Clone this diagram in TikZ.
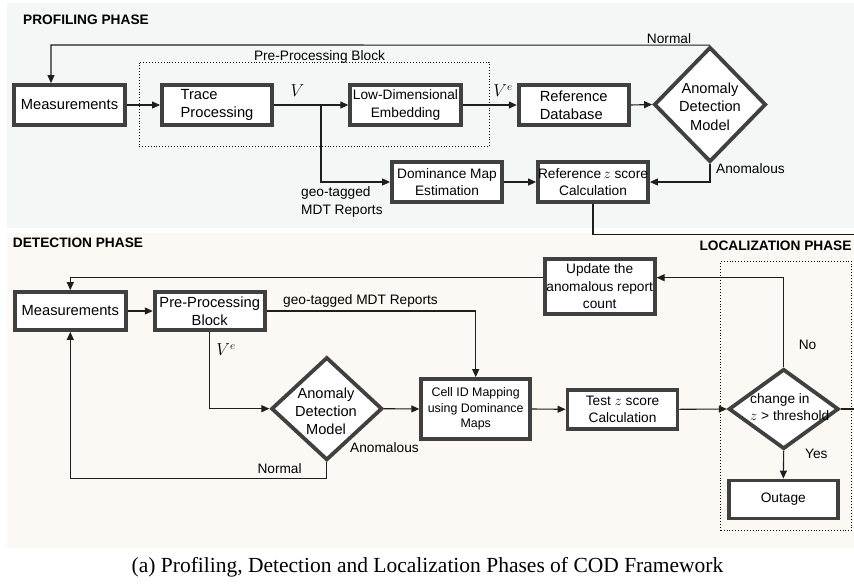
\documentclass[tikz,border=0pt]{standalone}
\usepackage{fontspec}
\setmainfont{Liberation Sans}
\newfontfamily\capfont{Liberation Serif}
\usetikzlibrary{shapes.geometric,arrows.meta,calc}
\definecolor{boxc}{RGB}{64,64,64}
\definecolor{linec}{RGB}{30,30,30}
\definecolor{profbg}{RGB}{245,246,246}
\definecolor{detbg}{RGB}{252,249,244}
\newcommand\dfont{\fontsize{13.7}{17.2}\selectfont}
\newcommand\bfont{\fontsize{14.7}{18.3}\selectfont}
\newcommand\sfont{\fontsize{12.4}{15.6}\selectfont}
\newcommand\hfont{\fontsize{13.7}{16}\selectfont\bfseries}
\begin{document}
\begin{tikzpicture}[x=1pt,y=-1pt,
  box/.style={draw=boxc, line width=3.8pt, fill=white, inner sep=0pt, font=\dfont, align=center},
  dia/.style={shape=diamond, draw=boxc, line width=3.8pt, fill=white, inner sep=0pt},
  lab/.style={inner sep=0pt, font=\dfont},
  conn/.style={draw=linec, line width=1.1pt},
  arr/.style={conn, -{Triangle[length=8pt,width=7pt]}},
  dotbox/.style={draw=black, dotted, line width=0.9pt, inner sep=0pt}]
\useasboundingbox (0,0) rectangle (854,584);
\fill[white] (0,0) rectangle (854,584);
% backgrounds
\fill[profbg] (7,3) rectangle (854,228);
\fill[detbg] (7,233) rectangle (854,548);

% headings
\node[lab, font=\hfont, anchor=west] (hprof) at (23,20) {PROFILING PHASE};
\node[lab, font=\hfont, anchor=west] (hdet) at (12.7,243) {DETECTION PHASE};
\node[lab, font=\hfont, anchor=east] (hloc) at (851.7,246) {LOCALIZATION PHASE};

% dotted blocks
\node[dotbox, minimum width=350.3, minimum height=84.7] (ppb) at (314.2,104.35) {};
\node[lab] (ppbl) at (319.5,56.7) {Pre-Processing Block};
\node[dotbox, minimum width=131, minimum height=269.7] (locb) at (786.2,395.85) {};

% ---------- profiling nodes ----------
\node[box, font=\bfont, minimum width=111, minimum height=40] (mp) at (69.5,105) {Measurements};
\node[box, font=\bfont, minimum width=110, minimum height=40, align=left] (tp) at (217,105) {Trace\\Processing};
\node[box, minimum width=110.5, minimum height=40] (ld) at (405.5,105) {Low-Dimensional\\Embedding};
\node[box, font=\bfont, minimum width=110, minimum height=40, align=left] (rd) at (573.7,105) {Reference\\Database};
\node[dia, minimum width=112, minimum height=115] (adp) at (710,104.5) {};
\node[lab, font=\fontsize{14.6}{18.3}\selectfont, align=center] (adpt) at (710,106.7) {Anomaly\\Detection\\Model};
\node[box, minimum width=110, minimum height=40] (dm) at (447,182) {Dominance Map\\Estimation};
\node[box, minimum width=110, minimum height=40] (rz) at (593,182) {Reference\,$z$ score\\Calculation};

% ---------- detection nodes ----------
\node[box, font=\bfont, minimum width=111, minimum height=38] (md) at (70.3,311) {Measurements};
\node[box, font=\bfont, minimum width=110, minimum height=38] (pd) at (209.7,311) {Pre-Processing\\Block};
\node[dia, minimum width=111, minimum height=103] (add) at (326.8,408.7) {};
\node[lab, font=\fontsize{14.6}{18}\selectfont, align=center] (addt) at (326,411) {Anomaly\\Detection\\Model};
\node[box, minimum width=109, minimum height=60, font=\sfont] (cm) at (475.7,409) {Cell ID Mapping\\using Dominance\\Maps};
\node[box, minimum width=110, minimum height=39] (tz) at (622.5,409.3) {Test $z$ score\\Calculation};
\node[dia, minimum width=110, minimum height=80] (chg) at (783.7,409) {};
\node[lab, align=left, anchor=west] (chgt) at (750,406.7) {change in\\$z$ > threshold};
\node[box, minimum width=109, minimum height=38] (out) at (783.3,499.5) {Outage};
\node[box, minimum width=110, minimum height=55] (upd) at (599.7,286.2) {Update the\\anomalous report\\count};

% ---------- labels ----------
\node[lab, font=\fontsize{16}{18}\selectfont] (lv) at (297.5,91) {$V$};
\node[lab, font=\fontsize{16}{18}\selectfont] (lve) at (503,90.5) {$V^e$};
\node[lab, align=left, anchor=west] (geop) at (301,202) {geo-tagged\\MDT Reports};
\node[lab] (normp) at (669,38.3) {Normal};
\node[lab, anchor=west] (anomp) at (716,168.3) {Anomalous};
\node[lab, anchor=west] (geod) at (283,301) {geo-tagged MDT Reports};
\node[lab, font=\fontsize{16}{18}\selectfont] (lved) at (226,350) {$V^e$};
\node[lab, anchor=west] (normd) at (257.3,468.3) {Normal};
\node[lab, anchor=west] (anomd) at (350,447.3) {Anomalous};
\node[lab] (no) at (807.5,345) {No};
\node[lab, anchor=west] (yes) at (805,454.3) {Yes};
\node[lab, font=\capfont\fontsize{21.5}{24}\selectfont] (cap) at (427.5,567.5) {(a) Profiling, Detection and Localization Phases of COD Framework};

% ---------- profiling connectors ----------
\coordinate (br) at (321,105);
\coordinate (nrm) at (51,45);
\coordinate (rzout) at (854,234.5);
\draw[arr] (mp.east) -- (tp.west);
\draw[arr] (tp.east) -- (ld.west);
\draw[arr] (br) |- (dm.west);
\draw[arr] (ld.east) -- (rd.west);
\draw[arr] (rd.east) -- (adp.west);
\draw[arr] (adp.north) -- (nrm) -- (nrm |- mp.north);
\draw[arr] (adp.south) |- (rz.east);
\draw[arr] (dm.east) -- (rz.west);
\draw[conn] (rz.south) |- (rzout);

% ---------- detection connectors ----------
\coordinate (chgout) at (854,409);
\draw[arr] ([yshift=8.5pt]upd.west) -| (md.north);
\draw[arr] (chg.north) |- ([yshift=8.5pt]upd.east);
\draw[arr] (md.east) -- (pd.west);
\draw[arr] (pd.east) -| (cm.north);
\draw[arr] (pd.south) |- (add.west);
\draw[arr] (add.east) -- (cm.west);
\draw[arr] (add.south) -- ++(0,16) -| (md.south);
\draw[arr] (cm.east) -- (tz.west);
\draw[arr] (tz.east) -- (chg.west);
\draw[conn] (chg.east) -- (chgout);
\draw[arr] (chg.south) -- (out.north);
\end{tikzpicture}
\end{document}
